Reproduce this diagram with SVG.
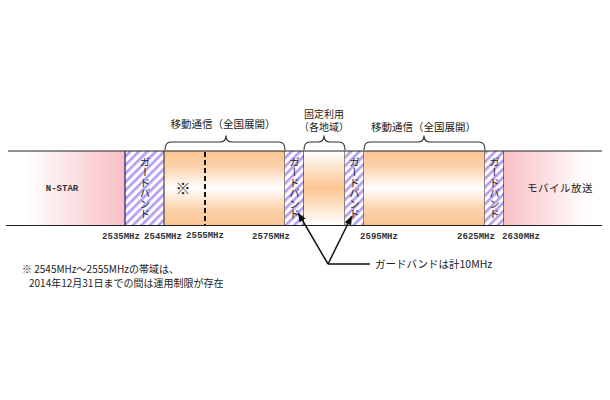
<svg xmlns="http://www.w3.org/2000/svg" width="610" height="400" viewBox="0 0 610 400">
<style>
.jp{font-family:"Noto Sans CJK JP","Liberation Sans",sans-serif;fill:#222}
.mono{font-family:"Liberation Mono",monospace;font-weight:bold;font-size:9px;fill:#333}
.vt{writing-mode:vertical-rl;text-orientation:upright;font-size:10.5px;font-family:"Noto Sans CJK JP",sans-serif;fill:#222}
.gb{fill:url(#hatch)}
.gbb{stroke:#2e2a5e;stroke-width:1.3}
.mb{stroke:#444;stroke-width:1.2}
.brace{fill:none;stroke:#333;stroke-width:1.2}
.conn{stroke:#111;stroke-width:1.5;fill:none}
</style>
<defs>
<pattern id="hatch" patternUnits="userSpaceOnUse" width="6" height="6" patternTransform="rotate(45)">
<rect width="6" height="6" fill="#fff"/>
<rect x="0" y="0" width="2.6" height="6" fill="#b49cf0"/>
</pattern>
<linearGradient id="nstar" x1="0" y1="0" x2="1" y2="0">
<stop offset="0.15" stop-color="#fff"/>
<stop offset="1" stop-color="#f7bfc4"/>
</linearGradient>
<linearGradient id="mbcast" x1="0" y1="0" x2="1" y2="0">
<stop offset="0" stop-color="#f7bfc4"/>
<stop offset="0.85" stop-color="#fff"/>
</linearGradient>
<linearGradient id="mobile" x1="0" y1="0" x2="0" y2="1">
<stop offset="0" stop-color="#fbc593"/>
<stop offset="0.22" stop-color="#fcd2ad"/>
<stop offset="0.5" stop-color="#fff"/>
<stop offset="0.78" stop-color="#fcd2ad"/>
<stop offset="1" stop-color="#fbc593"/>
</linearGradient>
<linearGradient id="fixed" x1="0" y1="0" x2="0" y2="1">
<stop offset="0" stop-color="#fff"/>
<stop offset="0.5" stop-color="#fbc593"/>
<stop offset="1" stop-color="#fff"/>
</linearGradient>
<marker id="ah" viewBox="0 0 10 10" refX="9" refY="5" markerWidth="6" markerHeight="6" orient="auto">
<path d="M0,1 L10,5 L0,9 z" fill="#111"/>
</marker>
</defs>

<g id="nstar-band">
<rect x="8" y="151" width="117" height="74" fill="url(#nstar)"/>
<text class="mono" x="62" y="191" text-anchor="middle">N-STAR</text>
</g>
<g id="guard1">
<rect x="125" y="151" width="39" height="74" class="gb"/>
<line x1="125" y1="151" x2="125" y2="225" class="gbb"/>
<text class="vt" x="145" y="188" text-anchor="middle">ガードバンド</text>
</g>
<g id="mobile1">
<rect x="164" y="151" width="121" height="74" fill="url(#mobile)"/>
<line x1="164" y1="151" x2="164" y2="225" class="mb"/>
<line x1="285" y1="151" x2="285" y2="225" class="mb"/>
<line x1="205" y1="152" x2="205" y2="225" stroke="#111" stroke-width="2" stroke-dasharray="5,3"/>
<text class="jp" x="183" y="194" text-anchor="middle" font-size="15">※</text>
</g>
<g id="guard2">
<rect x="285" y="151" width="19" height="74" class="gb"/>
<line x1="304" y1="151" x2="304" y2="225" class="gbb"/>
<text class="vt" x="294.5" y="188" text-anchor="middle">ガードバンド</text>
</g>
<g id="fixed-band">
<rect x="304" y="151" width="41" height="74" fill="url(#fixed)"/>
<line x1="345" y1="151" x2="345" y2="225" class="mb"/>
</g>
<g id="guard3">
<rect x="345" y="151" width="19" height="74" class="gb"/>
<line x1="364" y1="151" x2="364" y2="225" class="mb"/>
<text class="vt" x="354.5" y="188" text-anchor="middle">ガードバンド</text>
</g>
<g id="mobile2">
<rect x="364" y="151" width="121" height="74" fill="url(#mobile)"/>
<line x1="485" y1="151" x2="485" y2="225" class="mb"/>
</g>
<g id="guard4">
<rect x="485" y="151" width="19" height="74" class="gb"/>
<line x1="504" y1="151" x2="504" y2="225" class="gbb"/>
<text class="vt" x="494.5" y="188" text-anchor="middle">ガードバンド</text>
</g>
<g id="mobile-broadcast">
<rect x="504" y="151" width="98" height="74" fill="url(#mbcast)"/>
<text class="jp" x="560" y="192" text-anchor="middle" font-size="10.5" letter-spacing="0.5">モバイル放送</text>
</g>

<g id="axis">
<line x1="8" y1="151" x2="602" y2="151" stroke="#222" stroke-width="1.2"/>
<line x1="6" y1="225.5" x2="602" y2="225.5" stroke="#222" stroke-width="1.2"/>
</g>

<g id="freq-labels">
<text class="mono" x="121" y="239" text-anchor="middle">2535MHz</text>
<text class="mono" x="163" y="239" text-anchor="middle">2545MHz</text>
<text class="mono" x="205" y="238" text-anchor="middle">2555MHz</text>
<text class="mono" x="271" y="239" text-anchor="middle">2575MHz</text>
<text class="mono" x="379" y="239" text-anchor="middle">2595MHz</text>
<text class="mono" x="476" y="239" text-anchor="middle">2625MHz</text>
<text class="mono" x="521" y="239" text-anchor="middle">2630MHz</text>
</g>

<g id="braces">
<path class="brace" d="M165,150 Q165,142 171,142 L220,142 Q226,142 226,135.5 Q226,142 232,142 L279,142 Q285,142 285,150"/>
<path class="brace" d="M304,150 Q304,142 310,142 L318,142 Q324,142 324,135.5 Q324,142 330,142 L339,142 Q345,142 345,150"/>
<path class="brace" d="M364,150 Q364,142 370,142 L418,142 Q424,142 424,135.5 Q424,142 430,142 L479,142 Q485,142 485,150"/>
</g>

<g id="band-titles">
<text class="jp" x="223" y="128" text-anchor="middle" font-size="10.5">移動通信（全国展開）</text>
<text class="jp" x="324" y="117.5" text-anchor="middle" font-size="10">固定利用</text>
<text class="jp" x="324" y="131" text-anchor="middle" font-size="10">（各地域）</text>
<text class="jp" x="423.5" y="130.5" text-anchor="middle" font-size="10.5">移動通信（全国展開）</text>
</g>

<g id="connectors">
<line class="conn" x1="328" y1="264" x2="298.5" y2="213.5" marker-end="url(#ah)"/>
<line class="conn" x1="328" y1="264" x2="351.5" y2="216.5" marker-end="url(#ah)"/>
<line class="conn" x1="328" y1="264" x2="370" y2="264"/>
</g>
<g id="guard-note">
<text class="jp" x="375" y="268" font-size="10.5">ガードバンドは計10MHz</text>
</g>

<g id="footnote">
<text class="jp" x="22" y="272.5" font-size="10">※ 2545MHz～2555MHzの帯域は、</text>
<text class="jp" x="29" y="286.5" font-size="10">2014年12月31日までの間は運用制限が存在</text>
</g>
</svg>
